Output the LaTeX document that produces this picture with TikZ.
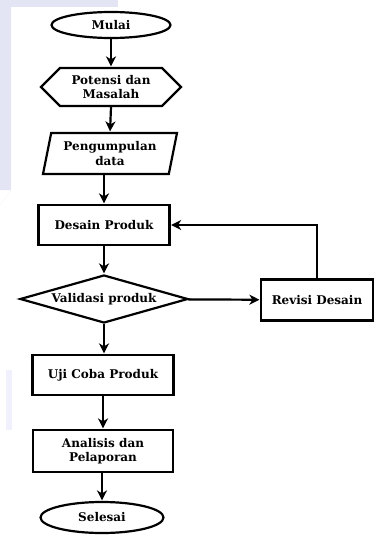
\documentclass[tikz,border=0pt]{standalone}
\usepackage{fontspec}
\setmainfont{DejaVu Serif}
\usetikzlibrary{arrows.meta,shapes}

\definecolor{lavender}{RGB}{228,229,244}

\begin{document}
\begin{tikzpicture}[x=1pt,y=-1pt,>={Stealth[length=10pt,width=10pt,inset=3pt]},shorten >=0.5pt,line width=2.2pt,
    font=\fontsize{12}{14.5}\selectfont\bfseries,
    blok/.style={draw,fill=white,align=center,inner sep=0pt},
    terminal/.style={blok,ellipse},
    proses/.style={blok,rectangle},
    masalah/.style={blok,signal,signal to=west and east,signal pointer angle=90},
    data/.style={blok,trapezium,trapezium left angle=71,trapezium right angle=109,trapezium stretches body},
    putusan/.style={blok,diamond,aspect=3.5}]
  \useasboundingbox (0,0) rectangle (374,535);
  % watermark
  \fill[lavender] (0,0) rectangle (118,7);
  \fill[lavender] (0,0) rectangle (11,190) -- (0,205) -- cycle;
  \fill[lavender!80!blue!20] (6,370) rectangle (12,430);

  \node[terminal,minimum width=119,minimum height=26] (0) at (111, 25)  {Mulai};
  \node[masalah,minimum width=140,minimum height=38]  (1) at (111, 87)    {Potensi dan\\Masalah};
  \node[data,minimum width=134,minimum height=41]     (2) at (110, 153.5) {Pengumpulan\\data};
  \node[proses,minimum width=131,minimum height=40]   (3) at (104, 225) {Desain Produk};
  \node[putusan,minimum width=168,minimum height=48]  (4) at (104, 299)   {Validasi produk};
  \node[proses,minimum width=112,minimum height=41]   (5) at (317, 300)   {Revisi Desain};
  \node[proses,minimum width=141,minimum height=40]   (6) at (103, 375) {Uji Coba Produk};
  \node[proses,minimum width=140,minimum height=42]   (7) at (103, 451)   {Analisis dan\\Pelaporan};
  \node[terminal,minimum width=123,minimum height=31] (8) at (102, 517.5) {Selesai};

  \draw[->] (0.south) -- (1.north);
  \draw[->] (1.south) -- (2.north);
  \draw[->] (2.south -| 3.north) -- (3.north);
  \draw[->] (3.south) -- (4.north);
  \draw[->] (4) -- (5);
  \draw[->] (5.north) |- (3.east);
  \draw[->] (4.south) -- (4.south |- 6.north);
  \draw[->] (6.south) -- (7.north);
  \draw[->] (7.south -| 8.north) -- (8.north);
\end{tikzpicture}
\end{document}
